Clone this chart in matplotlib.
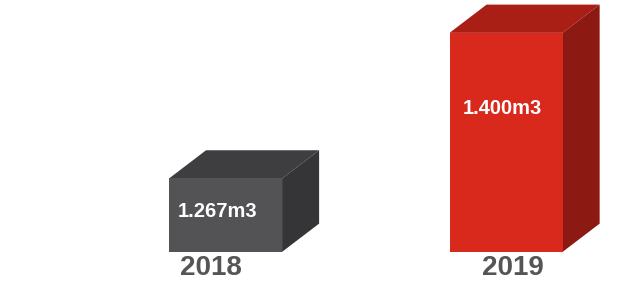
import matplotlib.pyplot as plt
from matplotlib.patches import Polygon

plt.rcParams['font.family'] = ['Liberation Sans', 'DejaVu Sans']

# Data
years = ['2018', '2019']
volumes = [1.267, 1.400]
labels = ['1.267m3', '1.400m3']

# Colours: front, top, side
front_cols = ['#535355', '#d9291c']
top_cols = ['#3e3e40', '#a91f15']
side_cols = ['#353537', '#8c1a12']

base = 1.2
width = 0.403
dx = 0.132   # depth offset in x
dy = 0.0258  # depth offset in y

fig = plt.figure(figsize=(6.27, 2.88), dpi=100)
ax = fig.add_axes([0, 0, 1, 1])
ax.set_xlim(-0.804, 1.431)
ax.set_ylim(1.167, 1.430)
ax.axis('off')

xs = range(len(years))
heights = [v - base for v in volumes]
ax.bar(xs, heights, width=width, bottom=base, color=front_cols, zorder=3)

for i, v in enumerate(volumes):
    x0 = i - width / 2
    x1 = i + width / 2
    # top face
    top = Polygon([(x0, v), (x1, v), (x1 + dx, v + dy), (x0 + dx, v + dy)],
                  closed=True, color=top_cols[i], zorder=2, lw=0)
    ax.add_patch(top)
    # side face
    side = Polygon([(x1, base), (x1, v), (x1 + dx, v + dy), (x1 + dx, base + dy)],
                   closed=True, color=side_cols[i], zorder=2, lw=0)
    ax.add_patch(side)

# value labels inside the front face
label_y = [1.237, 1.331]
label_dx = [-0.027, -0.015]
for i in xs:
    ax.text(i + label_dx[i], label_y[i], labels[i], color='white',
            fontsize=14.5, fontweight='bold', ha='center', va='center', zorder=4)

# year labels under the bars
year_dx = [-0.052, 0.025]
for i in xs:
    ax.text(i + year_dx[i], base - 0.0145, years[i], color='#555555',
            fontsize=20, fontweight='bold', ha='center', va='center')

fig.savefig('out.png', dpi=100)
